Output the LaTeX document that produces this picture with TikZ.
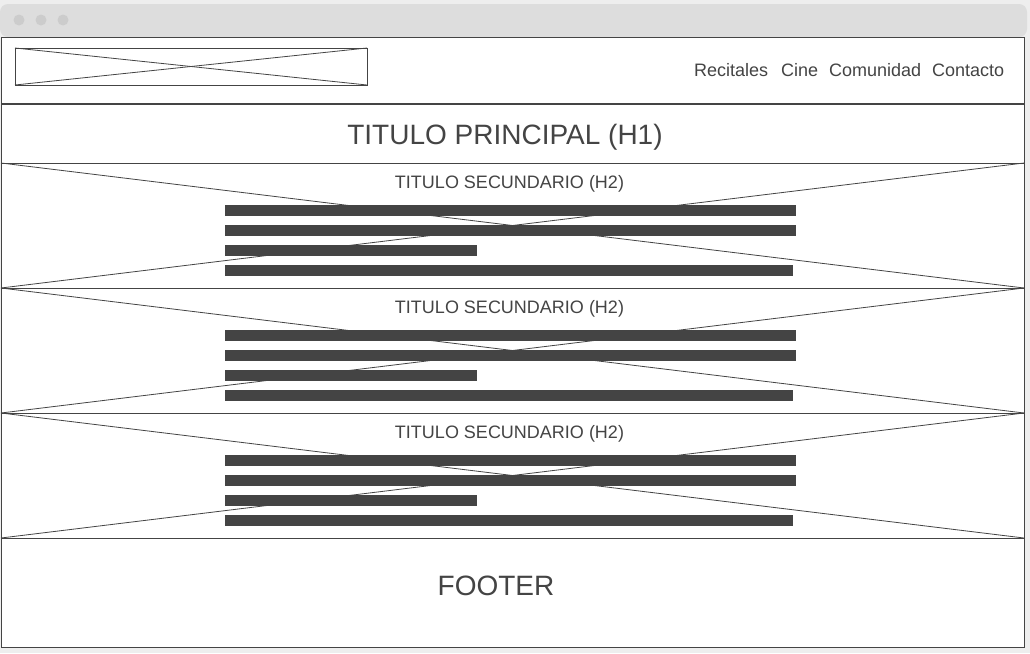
\documentclass[tikz,border=0pt]{standalone}
\usepackage{fontspec}
\setmainfont{Liberation Sans}
\definecolor{bggray}{HTML}{EEEEEE}
\definecolor{bargray}{HTML}{DDDDDD}
\definecolor{dotgray}{HTML}{CCCCCC}
\definecolor{ink}{HTML}{444444}
\tikzset{
  frameline/.style={draw=ink, line width=1pt},
  crossline/.style={draw=ink, line width=0.8pt},
  textbar/.style={fill=ink, draw=none},
  navtext/.style={text=ink, anchor=base west, inner sep=0pt, font=\fontsize{18}{20}\selectfont},
  htitle/.style={text=ink, anchor=base, inner sep=0pt, font=\fontsize{28}{32}\selectfont},
  hsub/.style={text=ink, anchor=base, inner sep=0pt, font=\fontsize{18}{20}\selectfont},
  dot/.style={circle, fill=dotgray, minimum size=11pt, inner sep=0pt}
}
\begin{document}
\begin{tikzpicture}[x=1pt,y=-1pt]
\useasboundingbox[fill=bggray] (0,0) rectangle (1030,653);
% browser top bar
\fill[bargray, rounded corners=8pt] (0,37) -- (0,4) -- (1027,4) -- (1027,37) -- cycle;
\node[dot] (d1) at (19,20) {};
\node[dot] (d2) at (41,20) {};
\node[dot] (d3) at (63,20) {};
% main frame
\fill[white] (1,37) rectangle (1024,647);
\draw[frameline] (1,37) rectangle (1024,647);
% header
\draw[draw=ink, line width=0.9pt] (15,48) rectangle (367,85);
\draw[crossline] (15,48) -- (367,85);
\draw[crossline] (15,85) -- (367,48);
\node[navtext] (n1) at (694,76) {Recitales};
\node[navtext] (n2) at (781,76) {Cine};
\node[navtext] (n3) at (829,76) {Comunidad};
\node[navtext] (n4) at (932,76) {Contacto};
\draw[draw=ink, line width=2pt] (1,103.5) -- (1024,103.5);
% H1
\node[htitle] (h1) at (505,144) {TITULO PRINCIPAL (H1)};
\draw[frameline] (1,163) -- (1024,163);
% sections
\foreach \t in {163,288,413} {
  \draw[crossline] (1,\t) -- (1024,\t+125);
  \draw[crossline] (1,\t+125) -- (1024,\t);
  \draw[frameline] (1,\t+125) -- (1024,\t+125);
  \node[hsub] at (509.5,\t+25.5) {TITULO SECUNDARIO (H2)};
  \fill[textbar] (225,\t+42) rectangle (796,\t+53);
  \fill[textbar] (225,\t+62) rectangle (796,\t+73);
  \fill[textbar] (225,\t+82) rectangle (477,\t+93);
  \fill[textbar] (225,\t+102) rectangle (793,\t+113);
}
% footer
\node[htitle] (ft) at (496,595) {FOOTER};
\end{tikzpicture}
\end{document}
